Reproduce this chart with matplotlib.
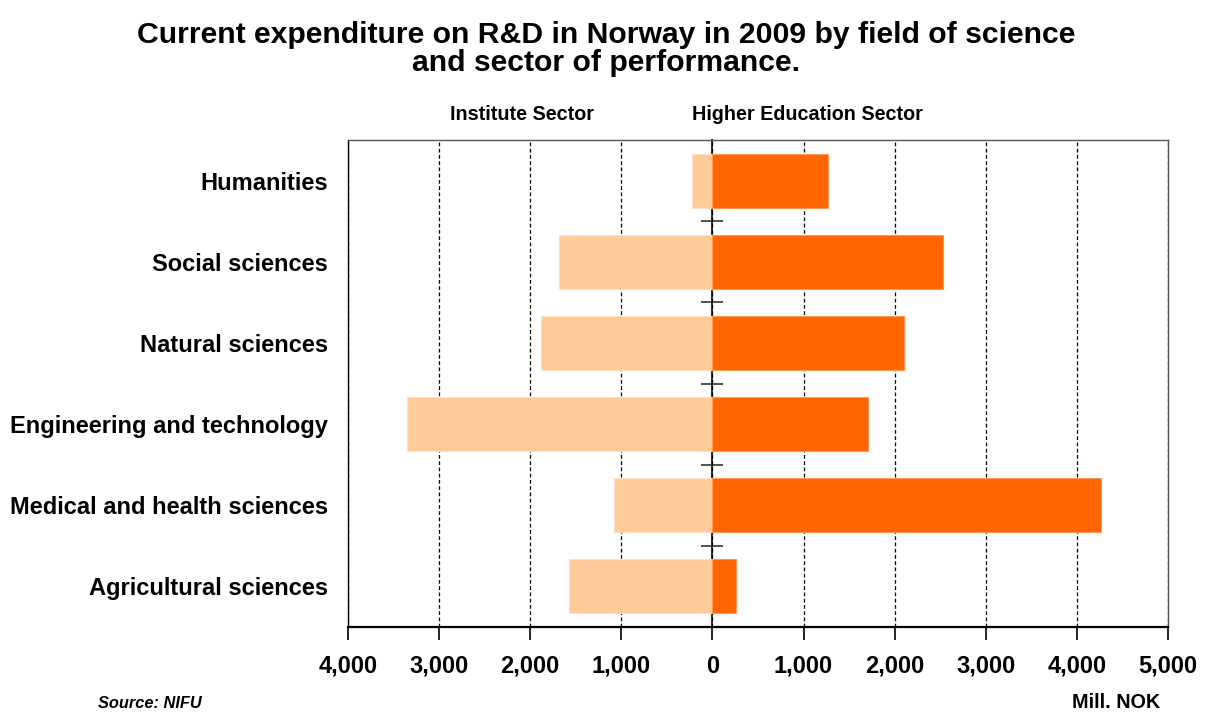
import matplotlib
matplotlib.use("Agg")
import matplotlib.pyplot as plt
from matplotlib.ticker import FuncFormatter
import numpy as np

plt.rcParams['font.family'] = ['Liberation Sans', 'DejaVu Sans']

categories = ["Humanities", "Social sciences", "Natural sciences",
              "Engineering and technology", "Medical and health sciences",
              "Agricultural sciences"]
institute = [220, 1684, 1877, 3352, 1080, 1573]
higher_ed = [1273, 2525, 2097, 1708, 4262, 262]
x_ticks = [-4000, -3000, -2000, -1000, 0, 1000, 2000, 3000, 4000, 5000]

fig = plt.figure(figsize=(12.07, 7.13), dpi=100)
ax = fig.add_axes([348/1207, 1-627/713, (1168-348)/1207, (627-140)/713])

y = np.arange(len(categories))
h = 0.665
ax.barh(y, [-v for v in institute], height=h, color='#FFCC99', edgecolor='#FFE0C0', linewidth=0.8, zorder=3)
ax.barh(y, higher_ed, height=h, color='#FF6600', edgecolor='#FF9955', linewidth=0.8, zorder=3)

ax.set_xlim(-4000, 5000)
ax.set_ylim(len(categories)-0.5, -0.5)
ax.set_xticks(x_ticks)
ax.xaxis.set_major_formatter(FuncFormatter(lambda v, p: f"{abs(int(v)):,}"))
ax.tick_params(axis='x', direction='out', length=9, width=1.2, pad=11, labelsize=17)
for t in ax.get_xticklabels():
    t.set_fontweight('bold')
ax.set_yticks(y)
ax.set_yticklabels(categories, fontsize=17, fontweight='bold')
ax.tick_params(axis='y', length=0, pad=14.5)

ax.grid(axis='x', color='black', linestyle=(0, (3, 2)), linewidth=0.9, zorder=1)
ax.grid(axis='y', visible=False)

ax.spines['bottom'].set_linewidth(1.6)
ax.spines['bottom'].set_color('black')
ax.spines['left'].set_color('black')
ax.spines['left'].set_linewidth(1.0)
for s in ['top', 'right']:
    ax.spines[s].set_color('#555555')
    ax.spines[s].set_linewidth(1.0)

# zero axis with category-boundary ticks
zero_frac = (0 - x_ticks[0]) / (x_ticks[-1] - x_ticks[0])
sec = ax.secondary_yaxis(zero_frac)
sec.set_yticks(np.arange(len(categories) - 1) + 0.5)
sec.tick_params(axis='y', direction='inout', length=16, width=1.2, color='#333333', labelleft=False, labelright=False)
sec.spines['left'].set_color('#333333')
sec.spines['left'].set_linewidth(1.5)
sec.spines['left'].set_zorder(5)

fig.text(0.502, 1-49/713, "Current expenditure on R&D in Norway in 2009 by field of science\nand sector of performance.",
         ha='center', va='center', fontsize=21.7, fontweight='bold', linespacing=1.0)
fig.text(594/1207, 1-115/713, "Institute Sector",
         ha='right', va='center', fontsize=14.2, fontweight='bold')
fig.text(692/1207, 1-115/713, "Higher Education Sector",
         ha='left', va='center', fontsize=14.2, fontweight='bold')
fig.text(98/1207, 1-703/713, "Source: NIFU", ha='left', va='center', fontsize=11.8,
         fontweight='bold', style='italic')
fig.text(1160/1207, 1-703/713, "Mill. NOK", ha='right', va='center', fontsize=14.2, fontweight='bold')

fig.savefig("out.png", dpi=100)
